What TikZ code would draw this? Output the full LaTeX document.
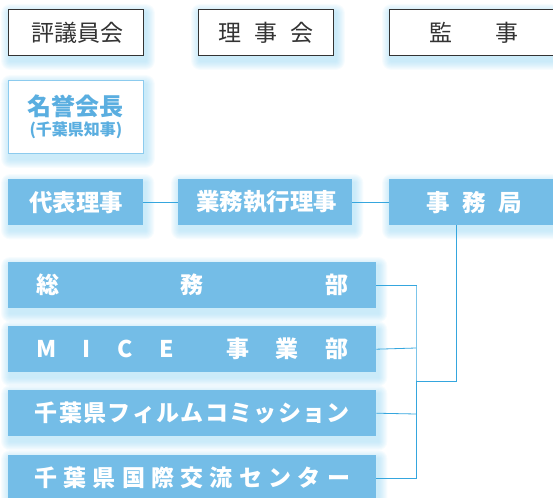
\documentclass[tikz,border=0pt]{standalone}
\usepackage{fontspec}
\newfontfamily\jp{Noto Sans CJK JP}
\usetikzlibrary{calc,backgrounds}
\definecolor{boxblue}{HTML}{74BDE7}
\definecolor{lineblue}{HTML}{35A6DE}
\definecolor{glowc}{HTML}{8ED3F3}
\definecolor{txtgray}{HTML}{333333}
\definecolor{honblue}{HTML}{5AAEE0}
\definecolor{honline}{HTML}{8CCBEE}
\tikzset{
  graybox/.style={draw=txtgray, line width=0.9pt, fill=white, anchor=north west, inner sep=0pt,
    minimum width=135pt, minimum height=46pt, text=txtgray, font=\jp\fontsize{23}{23}\selectfont},
  honbox/.style={draw=honline, line width=0.9pt, fill=white, anchor=north west, inner sep=0pt,
    minimum width=135pt, minimum height=73pt, text=honblue, align=center, font=\jp\bfseries},
  bluebox/.style={fill=boxblue, anchor=north west, inner sep=0pt, minimum height=46pt,
    text=white, font=\jp\bfseries\fontsize{23.5}{23.5}\selectfont},
  deptbox/.style={bluebox, minimum width=368pt, font=\jp\bfseries\fontsize{23}{23}\selectfont},
  conn/.style={draw=lineblue, line width=0.8pt},
}
\newcommand\glowit[1]{%
  \begin{pgfonlayer}{background}
  \foreach \k in {1,...,9}{%
    \fill[glowc, opacity=0.065, rounded corners=\k pt]
      ($(#1.north west)+(2-\k,4-\k)$) rectangle ($(#1.south east)+(2+\k,5+\k)$);}
  \end{pgfonlayer}}
\newcommand\spread[2]{\makebox[#1][s]{#2}}
\begin{document}
\begin{tikzpicture}[x=1pt,y=-1pt]
\useasboundingbox (0,0) rectangle (553,497);
\clip (0,0) rectangle (553,497);
% top row
\node[graybox] (hyogi) at (8,9) {\spread{89pt}{評\hfill 議\hfill 員\hfill 会}};
\node[graybox] (riji) at (198,9) {\spread{95pt}{理\hfill 事\hfill 会}};
\node[graybox, minimum width=170pt] (kanji) at (389,9) {\spread{89pt}{監\hfill 事}\hspace{34pt}};
% honorary chairman
\node[honbox] (meiyo) at (8,80) {{\fontsize{24}{24}\selectfont 名誉会長}\\[3pt]{\fontsize{16}{16}\selectfont (千葉県知事)}};
% row 3
\node[bluebox, minimum width=135pt] (daihyo) at (8,179) {\spread{93pt}{代\hfill 表\hfill 理\hfill 事}};
\node[bluebox, minimum width=174pt] (gyomu) at (178,179) {\spread{138pt}{業\hfill 務\hfill 執\hfill 行\hfill 理\hfill 事}};
\node[bluebox, minimum width=170pt] (jimu) at (389,179) {\spread{95pt}{事\hfill 務\hfill 局}\hspace{34pt}};
% departments
\node[deptbox] (somu) at (8,262) {\spread{312pt}{総\hfill 務\hfill 部}};
\node[deptbox] (mice) at (8,326) {\spread{312pt}{M\hfill I\hfill C\hfill E\hfill\hfill 事\hfill 業\hfill 部}};
\node[deptbox] (film) at (8,390) {\spread{315pt}{千\hfill 葉\hfill 県\hfill フ\hfill ィ\hfill ル\hfill ム\hfill コ\hfill ミ\hfill ッ\hfill シ\hfill ョ\hfill ン}};
\node[deptbox] (kokusai) at (8,455) {\spread{316pt}{千\hfill 葉\hfill 県\hfill 国\hfill 際\hfill 交\hfill 流\hfill セ\hfill ン\hfill タ\hfill ー}};
\foreach \n in {hyogi,riji,kanji,meiyo,daihyo,gyomu,jimu,somu,mice,film,kokusai}{\glowit{\n}}
% connectors
\draw[conn] (daihyo.east) -- (gyomu.west);
\draw[conn] (gyomu.east) -- (jimu.west);
\coordinate (bus) at (416,381);
\draw[conn] (jimu.south west) ++(67,0) |- (bus);
\draw[conn] (somu.east) -| (416,285) |- (kokusai.east);
\draw[conn] (mice.east) -- (416,348);
\draw[conn] (film.east) -- (416,414);
\end{tikzpicture}
\end{document}
